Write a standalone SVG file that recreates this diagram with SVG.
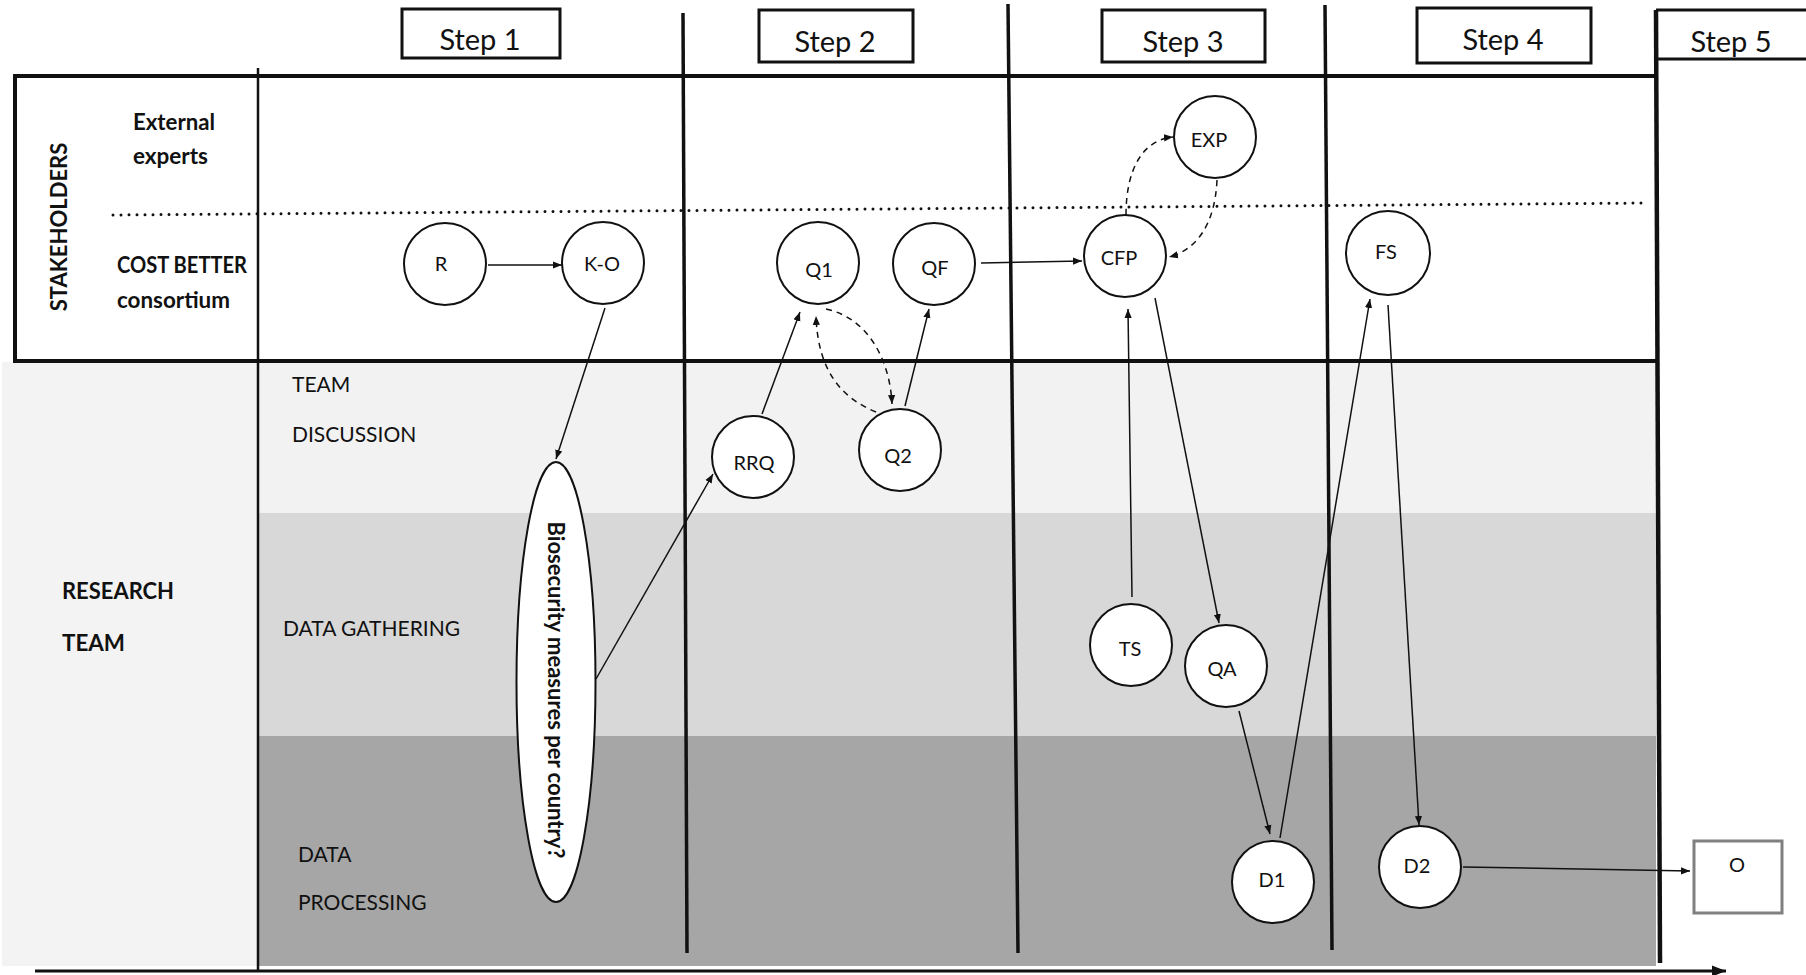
<svg xmlns="http://www.w3.org/2000/svg" width="1806" height="975" viewBox="0 0 1806 975">
<style>
text{font-family:Lato,"Liberation Sans",sans-serif;fill:#111}
.step{font-size:29px;text-anchor:middle}
.lbl{font-size:22px;font-weight:bold}
.lane{font-size:21px}
.nt{font-size:20px;text-anchor:middle;dominant-baseline:central}
.node{fill:#fff;stroke:#111;stroke-width:2}
.box{fill:#fff;stroke:#111;stroke-width:3}
.div{stroke:#111;stroke-width:3.5;fill:none}
.c{stroke:#111;stroke-width:1.5;fill:none;marker-end:url(#ah)}
.d{stroke:#111;stroke-width:1.5;fill:none;stroke-dasharray:6 5;marker-end:url(#ah)}
</style>
<defs>
<marker id="ah" viewBox="0 0 10 10" refX="10" refY="5" markerWidth="9" markerHeight="9" markerUnits="userSpaceOnUse" orient="auto"><path d="M0,1 L10,5 L0,9 z" fill="#111"/></marker>
<marker id="big" viewBox="0 0 10 10" refX="10" refY="5" markerWidth="16" markerHeight="14" markerUnits="userSpaceOnUse" orient="auto"><path d="M0,1 L10,5 L0,9 z" fill="#111"/></marker>
</defs>
<rect width="1806" height="975" fill="#fff"/>
<g id="background">
<rect x="2" y="362" width="256" height="604" fill="#f3f3f3"/>
<rect x="258" y="362" width="1398" height="151" fill="#f2f2f2"/>
<rect x="258" y="513" width="1398" height="223" fill="#d8d8d8"/>
<rect x="258" y="736" width="1398" height="230" fill="#a6a6a6"/>
<rect x="15" y="76" width="1642" height="285" fill="#fff"/>
</g>
<g id="frame">
<line x1="15" y1="76" x2="1658" y2="76" stroke="#111" stroke-width="4"/>
<line x1="15" y1="361" x2="1658" y2="361" stroke="#111" stroke-width="4"/>
<line x1="15" y1="74" x2="15" y2="363" stroke="#111" stroke-width="4"/>
<line x1="113" y1="215" x2="1647" y2="203" stroke="#111" stroke-width="3" stroke-linecap="round" stroke-dasharray="0 8"/>
<line x1="258" y1="68" x2="258" y2="970" stroke="#111" stroke-width="2.5"/>
<line class="div" x1="683" y1="13" x2="687" y2="953"/>
<line class="div" x1="1008" y1="4" x2="1018" y2="953"/>
<line class="div" x1="1325" y1="5" x2="1332" y2="950"/>
<line x1="1656" y1="10" x2="1660" y2="963" stroke="#111" stroke-width="4.5"/>
<line x1="35" y1="971" x2="1726" y2="971" stroke="#111" stroke-width="3" marker-end="url(#big)"/>
</g>
<g id="steps">
<rect class="box" x="402" y="9" width="158" height="49"/>
<text class="step" x="480" y="50">Step 1</text>
<rect class="box" x="759" y="10" width="154" height="52"/>
<text class="step" x="835" y="52">Step 2</text>
<rect class="box" x="1102" y="10" width="163" height="52"/>
<text class="step" x="1183" y="52">Step 3</text>
<rect class="box" x="1417" y="8" width="174" height="55"/>
<text class="step" x="1503" y="50">Step 4</text>
<line x1="1656" y1="10" x2="1806" y2="10" stroke="#111" stroke-width="3"/>
<line x1="1656" y1="59" x2="1806" y2="59" stroke="#111" stroke-width="3"/>
<text class="step" x="1731" y="52">Step 5</text>
</g>
<g id="labels">
<text class="lbl" transform="translate(58,227) rotate(-90)" text-anchor="middle" dominant-baseline="central" font-size="23">STAKEHOLDERS</text>
<text class="lbl" x="133" y="130" textLength="82" lengthAdjust="spacingAndGlyphs">External</text>
<text class="lbl" x="133" y="164" textLength="75" lengthAdjust="spacingAndGlyphs">experts</text>
<text class="lbl" x="117" y="273" textLength="130" lengthAdjust="spacingAndGlyphs">COST BETTER</text>
<text class="lbl" x="117" y="308" textLength="113" lengthAdjust="spacingAndGlyphs">consortium</text>
<text class="lbl" x="62" y="599" textLength="112" lengthAdjust="spacingAndGlyphs">RESEARCH</text>
<text class="lbl" x="62" y="651" textLength="63" lengthAdjust="spacingAndGlyphs">TEAM</text>
<text class="lane" x="292" y="392">TEAM</text>
<text class="lane" x="292" y="442">DISCUSSION</text>
<text class="lane" x="283" y="636">DATA GATHERING</text>
<text class="lane" x="298" y="862">DATA</text>
<text class="lane" x="298" y="910">PROCESSING</text>
</g>
<g id="connectors">
<line class="c" x1="488" y1="265" x2="562" y2="265"/>
<line class="c" x1="605" y1="308" x2="556" y2="459"/>
<line class="c" x1="596" y1="679" x2="713" y2="474"/>
<line class="c" x1="762" y1="414" x2="800" y2="312"/>
<path class="d" d="M876 412 C842 398 818 372 816 316"/>
<path class="d" d="M826 309 C868 318 890 360 892 404"/>
<line class="c" x1="905" y1="406" x2="929" y2="309"/>
<line class="c" x1="981" y1="263" x2="1082" y2="261"/>
<path class="d" d="M1126 215 C1126 170 1142 140 1173 137"/>
<path class="d" d="M1217 180 C1215 225 1196 250 1169 257"/>
<line class="c" x1="1132" y1="597" x2="1128" y2="309"/>
<line class="c" x1="1155" y1="298" x2="1219" y2="623"/>
<line class="c" x1="1239" y1="711" x2="1270" y2="834"/>
<line class="c" x1="1280" y1="838" x2="1370" y2="299"/>
<line class="c" x1="1388" y1="305" x2="1419" y2="825"/>
<line class="c" x1="1463" y1="867" x2="1690" y2="871"/>
</g>
<g id="node-bio">
<ellipse class="node" cx="556" cy="682" rx="39.5" ry="220"/>
<text transform="translate(556,690) rotate(90)" text-anchor="middle" dominant-baseline="central" font-size="22" font-weight="bold" textLength="337" lengthAdjust="spacingAndGlyphs">Biosecurity measures per country?</text>
</g>
<g id="node-R"><circle class="node" cx="445" cy="264" r="41"/><text class="nt" x="441" y="263">R</text></g>
<g id="node-KO"><circle class="node" cx="603" cy="263" r="41"/><text class="nt" x="602" y="263">K-O</text></g>
<g id="node-Q1"><circle class="node" cx="818" cy="263" r="41"/><text class="nt" x="819" y="269">Q1</text></g>
<g id="node-QF"><circle class="node" cx="934" cy="264" r="41"/><text class="nt" x="935" y="267">QF</text></g>
<g id="node-CFP"><circle class="node" cx="1125" cy="256" r="41"/><text class="nt" x="1119" y="257">CFP</text></g>
<g id="node-EXP"><circle class="node" cx="1215" cy="137" r="41"/><text class="nt" x="1209" y="139">EXP</text></g>
<g id="node-FS"><circle class="node" cx="1388" cy="253" r="42"/><text class="nt" x="1386" y="251">FS</text></g>
<g id="node-RRQ"><circle class="node" cx="753" cy="457" r="41"/><text class="nt" x="754" y="462">RRQ</text></g>
<g id="node-Q2"><circle class="node" cx="900" cy="450" r="41"/><text class="nt" x="898" y="455">Q2</text></g>
<g id="node-TS"><circle class="node" cx="1131" cy="645" r="41"/><text class="nt" x="1130" y="648">TS</text></g>
<g id="node-QA"><circle class="node" cx="1226" cy="666" r="41"/><text class="nt" x="1222" y="668">QA</text></g>
<g id="node-D1"><circle class="node" cx="1273" cy="882" r="41"/><text class="nt" x="1272" y="879">D1</text></g>
<g id="node-D2"><circle class="node" cx="1420" cy="867" r="41"/><text class="nt" x="1417" y="865">D2</text></g>
<g id="node-O"><rect x="1694" y="841" width="88" height="72" fill="#fff" stroke="#808080" stroke-width="3"/><text x="1737" y="872" font-size="20" text-anchor="middle">O</text></g>
</svg>
